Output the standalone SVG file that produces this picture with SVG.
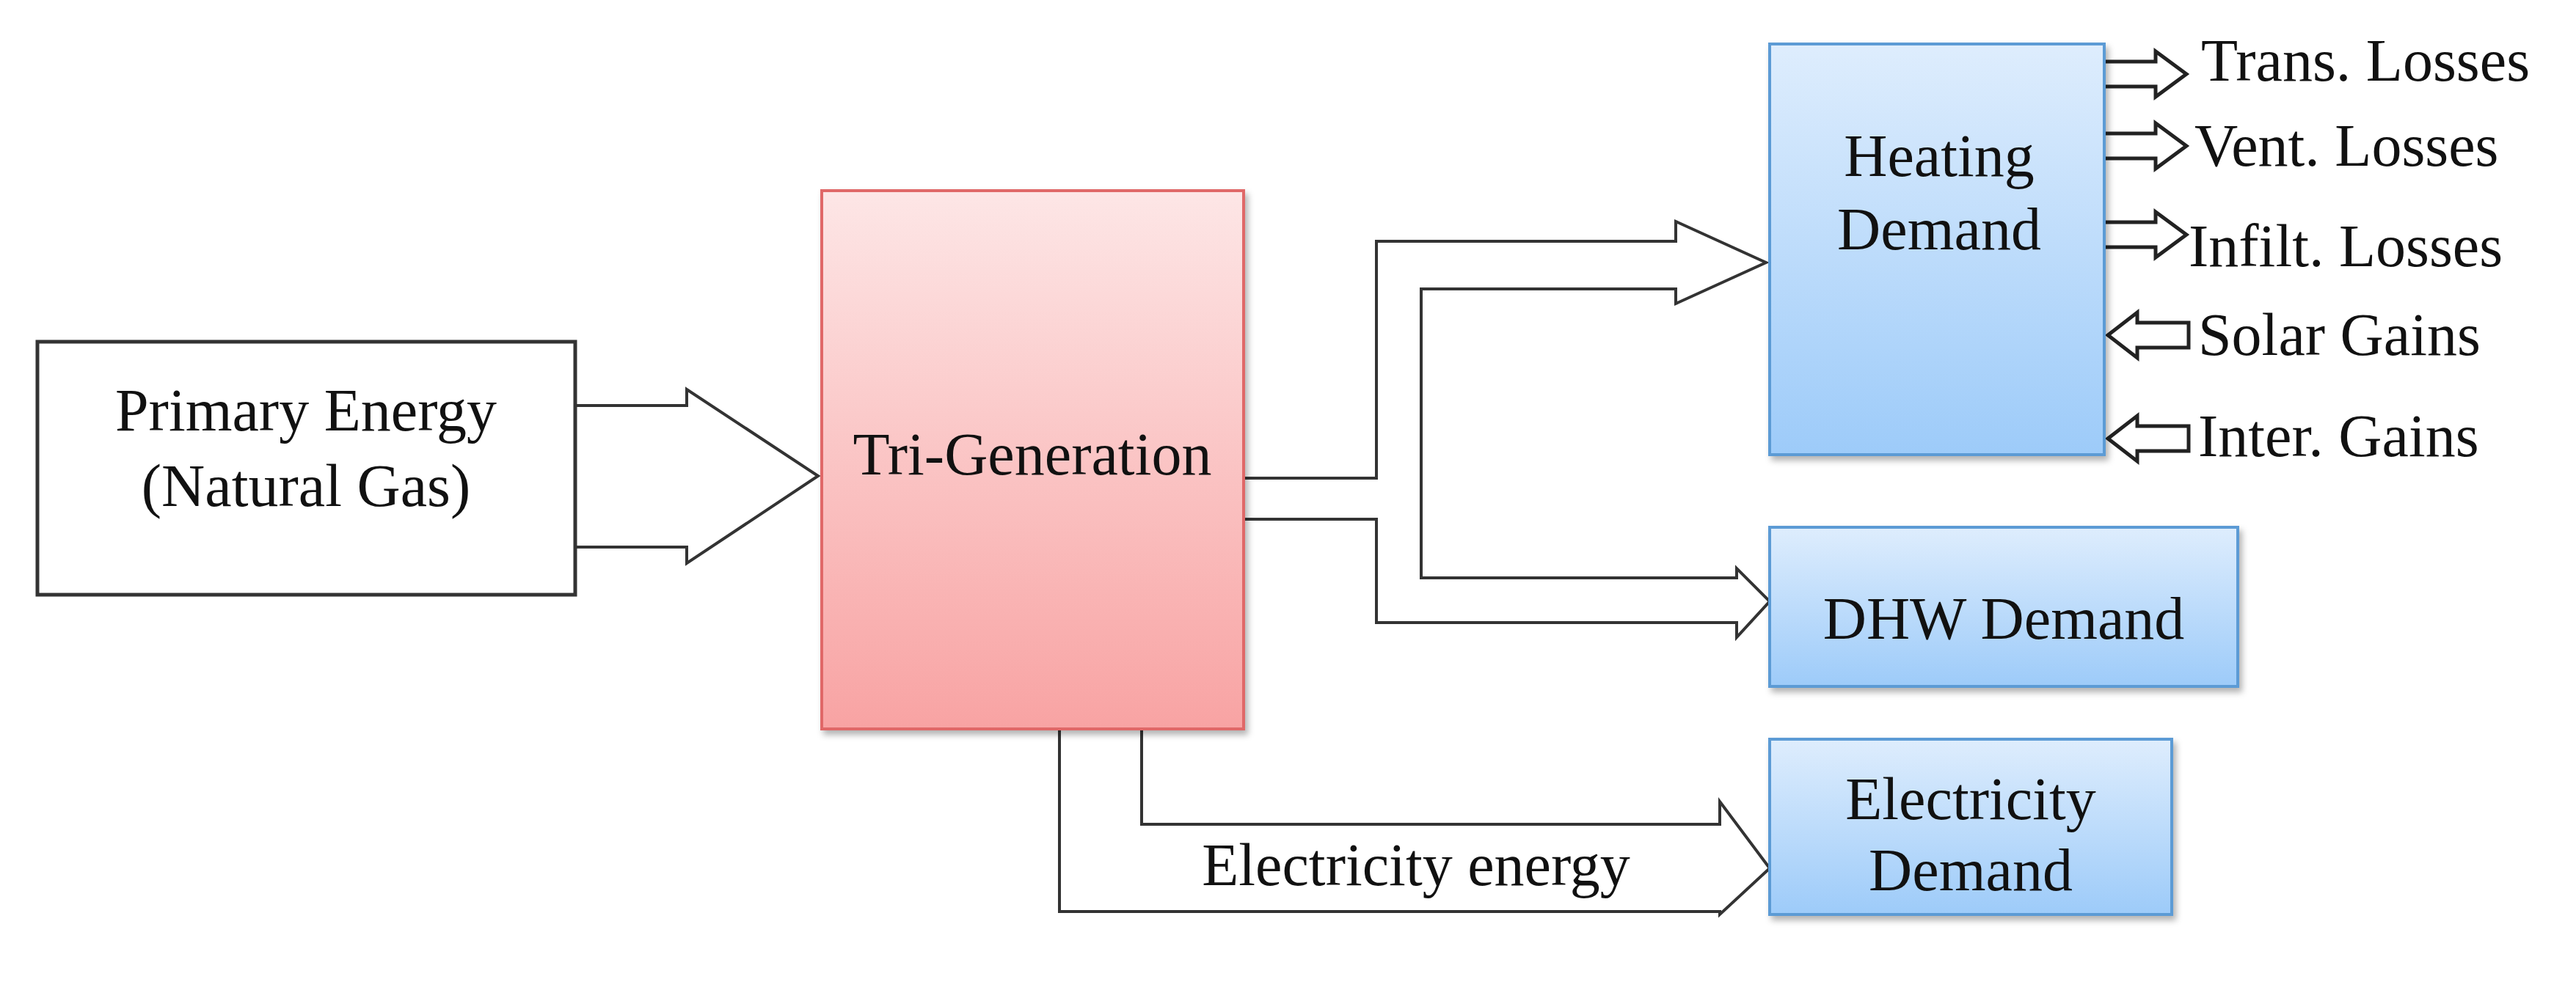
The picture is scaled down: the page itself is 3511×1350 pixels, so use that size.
<svg xmlns="http://www.w3.org/2000/svg" width="3511" height="1350" viewBox="0 0 3511 1350">
<style>
text{font-family:"Liberation Serif","Times New Roman",serif;font-size:82px;fill:#111}
.c{text-anchor:middle}
.ln{fill:none;stroke:#333;stroke-width:4;stroke-linejoin:miter}
.sa{fill:#fff;stroke:#222;stroke-width:5}
</style>
<defs>
<linearGradient id="pk" x1="0" y1="0" x2="0" y2="1"><stop offset="0" stop-color="#fde6e6"/><stop offset="1" stop-color="#f8a3a3"/></linearGradient>
<linearGradient id="bl" x1="0" y1="0" x2="0" y2="1"><stop offset="0" stop-color="#deedfd"/><stop offset="1" stop-color="#9dcbf9"/></linearGradient>
<filter id="sh" x="-5%" y="-5%" width="115%" height="115%"><feDropShadow dx="4" dy="6" stdDeviation="4" flood-color="#000" flood-opacity="0.3"/></filter>
</defs>
<rect width="3511" height="1350" fill="#fff"/>
<g id="connectors">
<path class="ln" d="M784,553 H936 V531 L1115,649 L936,768 V746 H784"/>
<path class="ln" d="M1695,652 H1876 V329 H2284 V302 L2407,358 L2284,414 V394 H1937 V788 H2367 V775 L2412,820 L2367,869 V849 H1876 V708 H1695"/>
<path class="ln" d="M1444,1243 V990 H1556 V1124 H2344 V1093 L2412,1184 L2344,1247 V1243 Z" fill="#fff"/>
<g class="sa">
<path d="M2870,84 H2938 V70 L2980,101 L2938,132 V118 H2870"/>
<path d="M2870,182 H2938 V168 L2980,199 L2938,230 V216 H2870"/>
<path d="M2870,303 H2938 V289 L2980,320 L2938,351 V337 H2870"/>
<path d="M2983,440 H2913 V426 L2873,457 L2913,488 V474 H2983 Z"/>
<path d="M2983,581 H2913 V567 L2873,598 L2913,629 V615 H2983 Z"/>
</g>
<text x="1930" y="1207" class="c">Electricity energy</text>
</g>
<g id="primary"><rect x="51" y="466" width="733" height="345" fill="#fff" stroke="#333" stroke-width="5"/>
<text x="417" y="587" class="c">Primary Energy</text><text x="417" y="690" class="c">(Natural Gas)</text></g>
<g id="trigen"><rect x="1120" y="260" width="575" height="734" fill="url(#pk)" stroke="#e06868" stroke-width="4" filter="url(#sh)"/>
<text x="1407" y="647" class="c">Tri-Generation</text></g>
<g id="heating"><rect x="2412" y="60" width="456" height="560" fill="url(#bl)" stroke="#5b9bd5" stroke-width="4" filter="url(#sh)"/>
<text x="2643" y="240" class="c">Heating</text><text x="2643" y="340" class="c">Demand</text></g>
<g id="dhw"><rect x="2412" y="719" width="638" height="217" fill="url(#bl)" stroke="#5b9bd5" stroke-width="4" filter="url(#sh)"/>
<text x="2731" y="871" class="c">DHW Demand</text></g>
<g id="elec"><rect x="2412" y="1008" width="548" height="239" fill="url(#bl)" stroke="#5b9bd5" stroke-width="4" filter="url(#sh)"/>
<text x="2686" y="1117" class="c">Electricity</text><text x="2686" y="1214" class="c">Demand</text></g>
<g id="labels">
<text x="3000" y="110">Trans. Losses</text>
<text x="2991" y="226">Vent. Losses</text>
<text x="2983" y="363">Infilt. Losses</text>
<text x="2996" y="484">Solar Gains</text>
<text x="2996" y="622">Inter. Gains</text>
</g>
</svg>
